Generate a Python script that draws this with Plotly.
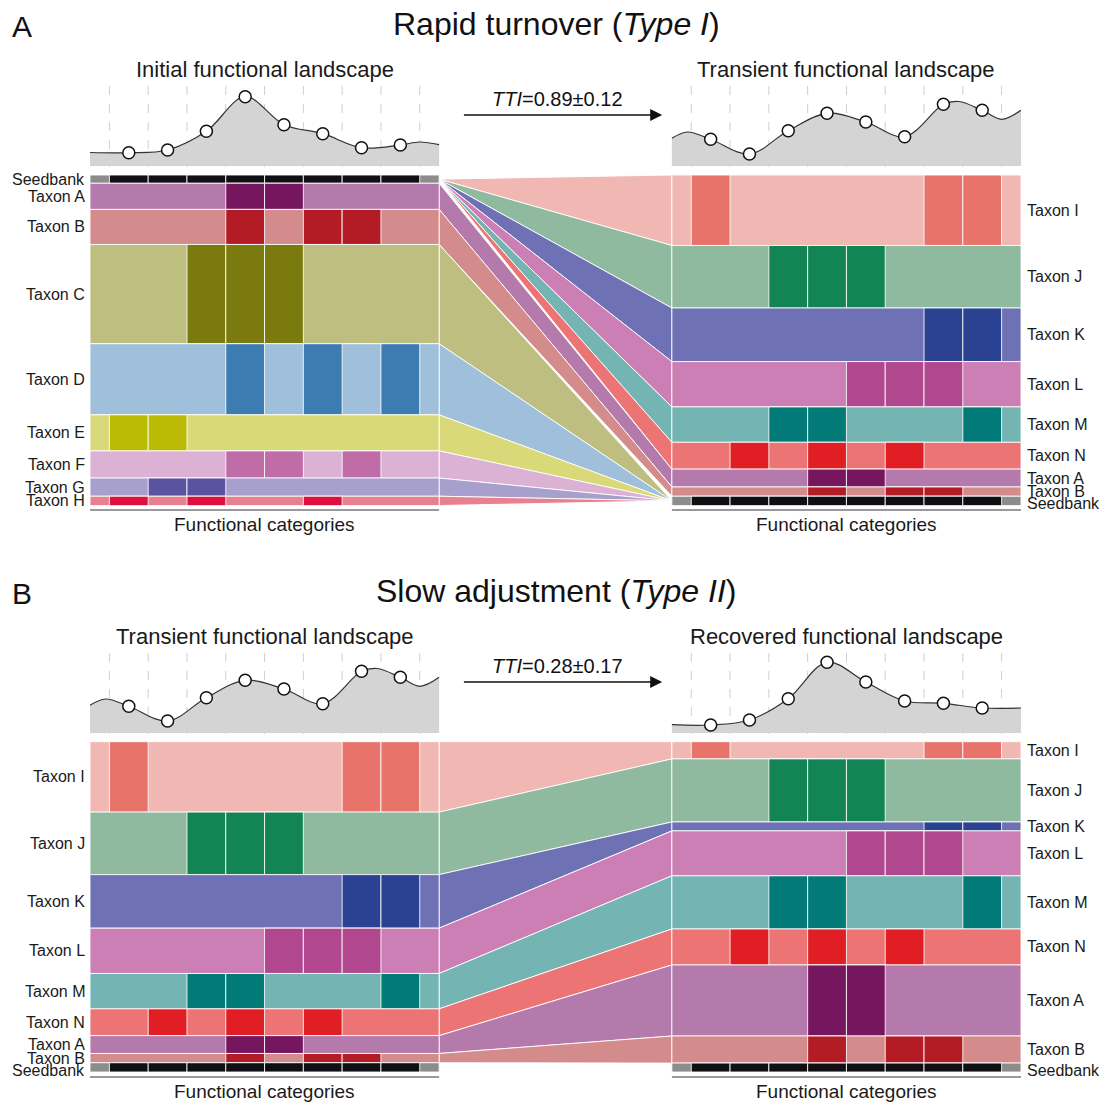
import plotly.graph_objects as go

W, H = 1099, 1103

# ------------------------------------------------------------------ data
# (light colour, dark colour) for each taxon
colors = {
    "Seedbank": ("#8c8c8c", "#101014"),
    "Taxon A": ("#b47aab", "#76165e"),
    "Taxon B": ("#d48b8b", "#b41c25"),
    "Taxon C": ("#bdbe80", "#7b7a0e"),
    "Taxon D": ("#9fbfdb", "#3d7cb2"),
    "Taxon E": ("#d9d97a", "#bbbb05"),
    "Taxon F": ("#dbb1d4", "#bf6ca8"),
    "Taxon G": ("#a8a0cc", "#5953a2"),
    "Taxon H": ("#e8818f", "#de1040"),
    "Taxon I": ("#f1b7b2", "#e8736b"),
    "Taxon J": ("#8fbaa0", "#138453"),
    "Taxon K": ("#6e72b4", "#2b4192"),
    "Taxon L": ("#cb7fb4", "#b0478f"),
    "Taxon M": ("#74b4b2", "#027a78"),
    "Taxon N": ("#ec7474", "#e01e24"),
}

# functional categories (0..7) in which each taxon is active
highlight = {
    "Seedbank": [0, 1, 2, 3, 4, 5, 6, 7],
    "Taxon A": [3, 4],
    "Taxon B": [3, 5, 6],
    "Taxon C": [2, 3, 4],
    "Taxon D": [3, 5, 7],
    "Taxon E": [0, 1],
    "Taxon F": [3, 4, 6],
    "Taxon G": [1, 2],
    "Taxon H": [0, 2, 5],
    "Taxon I": [0, 6, 7],
    "Taxon J": [2, 3, 4],
    "Taxon K": [6, 7],
    "Taxon L": [4, 5, 6],
    "Taxon M": [2, 3, 7],
    "Taxon N": [1, 3, 5],
}

n_categories = 8

# relative abundances (stack order, top to bottom)
initial_names = ["Seedbank", "Taxon A", "Taxon B", "Taxon C", "Taxon D",
                 "Taxon E", "Taxon F", "Taxon G", "Taxon H"]
initial_abund = [2.5, 7.9, 10.6, 30.0, 21.5, 10.9, 8.2, 5.5, 2.8]

transient_names = ["Taxon I", "Taxon J", "Taxon K", "Taxon L", "Taxon M",
                   "Taxon N", "Taxon A", "Taxon B", "Seedbank"]
transient_abund = [21.3, 18.9, 16.2, 13.7, 10.7, 8.1, 5.4, 2.8, 2.8]

recovered_names = ["Taxon I", "Taxon J", "Taxon K", "Taxon L", "Taxon M",
                   "Taxon N", "Taxon A", "Taxon B", "Seedbank"]
recovered_abund = [5.2, 19.1, 2.7, 13.6, 16.1, 10.9, 21.5, 8.2, 2.7]

# functional landscape density curves (category position, density)
initial_curve_x = [-0.5, 0.5, 1.5, 2.5, 3.5, 4.5, 5.5, 6.5, 7.5, 8.0, 8.5]
initial_curve_y = [13.5, 13.3, 16.0, 34.7, 69.3, 41.3, 32.3, 18.3, 21.0, 24.0, 21.3]

transient_curve_x = [-0.5, -0.1, 0.5, 1.5, 2.5, 3.5, 4.5, 5.5, 6.5, 6.9, 7.5, 8.0, 8.5]
transient_curve_y = [27.7, 34.0, 26.7, 12.0, 35.3, 52.7, 44.0, 29.3, 61.7, 64.5, 55.7, 46.7, 55.7]

recovered_curve_x = [-0.5, 0.5, 1.5, 2.5, 3.5, 4.5, 5.5, 6.5, 7.5, 8.5]
recovered_curve_y = [8.3, 8.0, 13.0, 34.3, 70.7, 51.0, 32.0, 29.7, 25.0, 25.0]

panel_titles = ["Rapid turnover (<i>Type I</i>)", "Slow adjustment (<i>Type II</i>)"]
panel_letters = ["A", "B"]
tti_labels = ["<i>TTI</i>=0.89\u00b10.12", "<i>TTI</i>=0.28\u00b10.17"]
landscape_titles = [("Initial functional landscape", "Transient functional landscape"),
                    ("Transient functional landscape", "Recovered functional landscape")]

# ------------------------------------------------------------------ layout helpers
FONT = "Arial, Liberation Sans, Helvetica, sans-serif"
RIGHT_OFF = 15          # x offset of the right landscape (category units)
LEFT_EDGE, RIGHT_EDGE = 8.5, RIGHT_OFF - 0.5   # flow endpoints


def py(px):
    return 1 - px / H


panels = [
    dict(stack_ax="y", dens_ax="y2", stack_top=175, stack_bot=505.5,
         dens_base=166, dens_top=86, axis_line=510, fc_y=524,
         letter_y=26, title_y=24, sub_y=69, tti_y=99, arrow_y=115,
         left=(initial_names, initial_abund, initial_curve_x, initial_curve_y),
         right=(transient_names, transient_abund, transient_curve_x, transient_curve_y)),
    dict(stack_ax="y3", dens_ax="y4", stack_top=741.7, stack_bot=1072,
         dens_base=733, dens_top=653, axis_line=1077, fc_y=1091,
         letter_y=593, title_y=591, sub_y=636, tti_y=666, arrow_y=682,
         left=(transient_names, transient_abund, transient_curve_x, transient_curve_y),
         right=(recovered_names, recovered_abund, recovered_curve_x, recovered_curve_y)),
]

fig = go.Figure()
shapes = []
annotations = []


def stack_positions(names, abund):
    tot = sum(abund)
    pos = {}
    c = 0.0
    for n, a in zip(names, abund):
        v = a / tot * 100.0
        pos[n] = (c, c + v)
        c += v
    return pos


for p_i, P in enumerate(panels):
    yref = P["stack_ax"]
    dref = P["dens_ax"]
    sides = [(P["left"], 0, "left"), (P["right"], RIGHT_OFF, "right")]
    positions = []
    for (names, abund, cx, cy), xoff, side in sides:
        pos = stack_positions(names, abund)
        positions.append(pos)
        # stacked taxon rows
        for idx, n in enumerate(names):
            y0, y1 = pos[n]
            light, dark = colors[n]
            shapes.append(dict(type="rect", xref="x", yref=yref,
                               x0=xoff - 0.5, x1=xoff + n_categories + 0.5,
                               y0=y0, y1=y1, fillcolor=light,
                               line=dict(color="rgba(255,255,255,0.85)", width=1),
                               layer="above"))
            for k in highlight[n]:
                shapes.append(dict(type="rect", xref="x", yref=yref,
                                   x0=xoff + k, x1=xoff + k + 1, y0=y0, y1=y1,
                                   fillcolor=dark,
                                   line=dict(color="rgba(255,255,255,0.85)", width=1),
                                   layer="above"))
            # labels (the last, bottom-most label sits slightly lower)
            annotations.append(dict(
                x=xoff - 0.5 if side == "left" else xoff + n_categories + 0.5,
                xref="x", y=(y0 + y1) / 2, yref=yref, text=n, showarrow=False,
                xanchor="right" if side == "left" else "left",
                xshift=-3 if side == "left" else 4,
                yshift=-3 if (idx == len(names) - 1 and n == "Seedbank") else 0,
                yanchor="middle",
                font=dict(size=16, color="#1a1a1a", family=FONT)))
        # dashed category separators
        for k in range(n_categories + 1):
            shapes.append(dict(type="line", xref="x", yref="paper",
                               x0=xoff + k, x1=xoff + k,
                               y0=py(P["dens_top"]), y1=py(P["stack_top"]),
                               line=dict(color="#cfcfcf", width=1, dash="dash"),
                               layer="below"))
        # bottom axis line
        shapes.append(dict(type="line", xref="x", yref="paper",
                           x0=xoff - 0.5, x1=xoff + n_categories + 0.5,
                           y0=py(P["axis_line"]), y1=py(P["axis_line"]),
                           line=dict(color="#9a9a9a", width=2)))
        annotations.append(dict(x=xoff + n_categories / 2, xref="x", y=py(P["fc_y"]),
                                yref="paper", text="Functional categories",
                                showarrow=False, xanchor="center", yanchor="middle",
                                font=dict(size=19, color="#1a1a1a", family=FONT)))
        # density curve
        fig.add_trace(go.Scatter(
            x=[xoff + v for v in cx], y=cy, xaxis="x", yaxis=dref, mode="lines",
            line=dict(shape="spline", smoothing=1.0, color="#333333", width=1.2),
            fill="tozeroy", fillcolor="#d4d4d4", hoverinfo="skip", showlegend=False))
        dx = [xoff + v for v in cx if (v - 0.5) == int(v - 0.5) and 0 < v < n_categories]
        dy = [w for v, w in zip(cx, cy) if (v - 0.5) == int(v - 0.5) and 0 < v < n_categories]
        fig.add_trace(go.Scatter(
            x=dx, y=dy, xaxis="x", yaxis=dref, mode="markers",
            marker=dict(size=12, color="white", line=dict(color="#111111", width=1.5)),
            hoverinfo="skip", showlegend=False, cliponaxis=False))
        # landscape title
        annotations.append(dict(x=xoff + n_categories / 2, xref="x", y=py(P["sub_y"]),
                                yref="paper",
                                text=landscape_titles[p_i][0 if side == "left" else 1],
                                showarrow=False, xanchor="center", yanchor="middle",
                                font=dict(size=22, color="#1a1a1a", family=FONT)))

    # flows between the two landscapes
    lpos, rpos = positions
    src = lpos["Seedbank"]
    snk = rpos["Seedbank"]
    src_pt = (src[0] + src[1]) / 2
    snk_pt = (snk[0] + snk[1]) / 2
    all_taxa = [n for n in list(lpos) + list(rpos) if n != "Seedbank"]
    seen = []
    for n in all_taxa:
        if n in seen:
            continue
        seen.append(n)
        l0, l1 = lpos.get(n, (src_pt, src_pt))
        r0, r1 = rpos.get(n, (snk_pt, snk_pt))
        fig.add_trace(go.Scatter(
            x=[LEFT_EDGE, RIGHT_EDGE, RIGHT_EDGE, LEFT_EDGE, LEFT_EDGE],
            y=[l0, r0, r1, l1, l0], xaxis="x", yaxis=yref, mode="lines",
            fill="toself", fillcolor=colors[n][0],
            line=dict(color="rgba(255,255,255,0.9)", width=1),
            hoverinfo="skip", showlegend=False))

    # panel letter, title, TTI arrow
    annotations.append(dict(x=22 / W, y=py(P["letter_y"]), xref="paper", yref="paper",
                            text=panel_letters[p_i], showarrow=False,
                            xanchor="center", yanchor="middle",
                            font=dict(size=30, color="#111111", family=FONT)))
    annotations.append(dict(x=556 / W, y=py(P["title_y"]), xref="paper", yref="paper",
                            text=panel_titles[p_i], showarrow=False,
                            xanchor="center", yanchor="middle",
                            font=dict(size=32, color="#111111", family=FONT)))
    annotations.append(dict(x=(LEFT_EDGE + RIGHT_EDGE) / 2 + 0.05, xref="x",
                            y=py(P["tti_y"]), yref="paper",
                            text=tti_labels[p_i], showarrow=False,
                            xanchor="center", yanchor="middle",
                            font=dict(size=20, color="#111111", family=FONT)))
    annotations.append(dict(x=RIGHT_EDGE - 0.25, xref="x", y=py(P["arrow_y"]),
                            yref="paper", ax=LEFT_EDGE + 0.6, axref="x", ay=0,
                            ayref="pixel", text="", showarrow=True, arrowhead=2,
                            arrowsize=1.5, arrowwidth=1.6, arrowcolor="#111111"))

xdom = [90 / W, 1021 / W]
layout = dict(
    width=W, height=H, margin=dict(l=0, r=0, t=0, b=0),
    paper_bgcolor="white", plot_bgcolor="rgba(0,0,0,0)",
    showlegend=False,
    xaxis=dict(domain=xdom, range=[-0.5, RIGHT_OFF + n_categories + 0.5],
               visible=False, fixedrange=True),
    shapes=shapes, annotations=annotations,
)
for P in panels:
    sk = "yaxis" if P["stack_ax"] == "y" else "yaxis" + P["stack_ax"][1:]
    dk = "yaxis" + P["dens_ax"][1:]
    layout[sk] = dict(domain=[py(P["stack_bot"]), py(P["stack_top"])], range=[100, 0],
                      visible=False, anchor="x", fixedrange=True)
    layout[dk] = dict(domain=[py(P["dens_base"]), py(P["dens_top"])], range=[0, 80],
                      visible=False, anchor="x", fixedrange=True)

fig.update_layout(**layout)
fig.write_html("out.html", config={"displayModeBar": False},
               post_script="document.body.style.margin='0';"
                           "document.body.style.overflow='hidden';")
